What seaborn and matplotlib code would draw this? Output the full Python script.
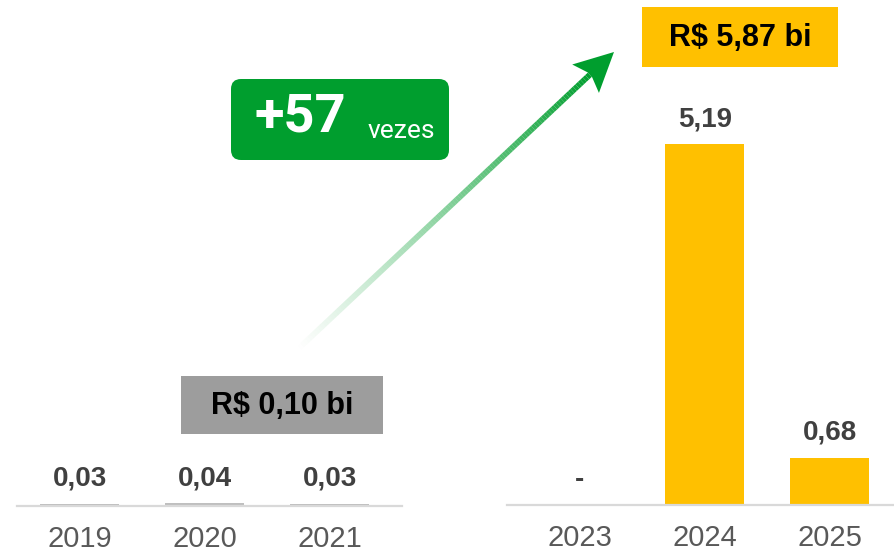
import numpy as np
import matplotlib
matplotlib.use("Agg")
import matplotlib.pyplot as plt
import seaborn as sns
from matplotlib.patches import FancyBboxPatch, Rectangle, Polygon
from matplotlib.collections import LineCollection

# ---- data ----
years_a = ["2019", "2020", "2021"]
vals_a = [0.03, 0.04, 0.03]
labels_a = ["0,03", "0,04", "0,03"]
years_b = ["2023", "2024", "2025"]
vals_b = [0.0, 5.19, 0.68]
labels_b = ["-", "5,19", "0,68"]
total_a = "R$ 0,10 bi"
total_b = "R$ 5,87 bi"
growth = "+57"
growth_unit = "vezes"

sns.set_theme(style="white")
plt.rcParams["font.family"] = ["Liberation Sans", "DejaVu Sans"]

W, H = 895, 558
fig = plt.figure(figsize=(W / 100, H / 100), dpi=100)

GRAY_BAR = "#BFBFBF"
YELLOW = "#FFC000"
GREEN = "#009E2E"
BASE = "#D9D9D9"
YMAX = 7.27


def px_axes(x0, x1, base_y):
    return fig.add_axes([x0 / W, (H - base_y) / H, (x1 - x0) / W, base_y / H])


def draw_group(ax, years, vals, labels, color, xlim):
    sns.barplot(x=years, y=vals, color=color, width=0.632, saturation=1,
                edgecolor="none", linewidth=0, ax=ax)
    ax.set_xlim(*xlim)
    ax.set_ylim(0, YMAX)
    ax.set_yticks([])
    ax.set_ylabel("")
    for s in ["top", "left", "right"]:
        ax.spines[s].set_visible(False)
    ax.spines["bottom"].set_color(BASE)
    ax.spines["bottom"].set_linewidth(1.6)
    ax.tick_params(axis="x", length=0, pad=14, labelsize=21, labelcolor="#595959")
    ax.patch.set_alpha(0)
    for i, (v, lab) in enumerate(zip(vals, labels)):
        ax.annotate(lab, (i, v), xytext=(0, 13), textcoords="offset points",
                    ha="center", va="baseline", fontsize=20, fontweight="bold",
                    color="#404040")


ax_a = px_axes(17, 402, 506)
draw_group(ax_a, years_a, vals_a, labels_a, GRAY_BAR, (-0.5, 2.58))
ax_b = px_axes(507, 893, 505)
draw_group(ax_b, years_b, vals_b, labels_b, YELLOW, (-0.584, 2.504))

# ---- overlay in pixel coordinates ----
ov = fig.add_axes([0, 0, 1, 1])
ov.set_xlim(0, W)
ov.set_ylim(H, 0)
ov.axis("off")
ov.patch.set_alpha(0)

# gray total box
ov.add_patch(Rectangle((181, 376), 202, 58, facecolor="#9D9D9D", edgecolor="none"))
ov.text(282, 406, total_a, ha="center", va="center", fontsize=22,
        fontweight="bold", color="black")

# yellow total box
ov.add_patch(Rectangle((642, 7), 196, 60, facecolor=YELLOW, edgecolor="none"))
ov.text(740, 38, total_b, ha="center", va="center", fontsize=22,
        fontweight="bold", color="black")

# green badge
ov.add_patch(FancyBboxPatch((231, 79), 218, 81,
                            boxstyle="round,pad=0,rounding_size=10",
                            facecolor=GREEN, edgecolor="none"))
ov.text(255, 131.5, growth, ha="left", va="baseline", fontsize=39,
        fontweight="bold", color="white", family=["Roboto", "DejaVu Sans"])
ov.text(368, 138, growth_unit, ha="left", va="baseline", fontsize=19,
        color="white", family=["Roboto", "DejaVu Sans"], fontweight="normal")

# gradient arrow
tail = np.array([297.0, 350.0])
tip = np.array([614.0, 52.0])
u = (tip - tail) / np.linalg.norm(tip - tail)
n = np.array([-u[1], u[0]])
notch = tip - 30 * u
N = 120
pts = np.linspace(tail, notch, N + 1)
segs = np.stack([pts[:-1], pts[1:]], axis=1)
alphas = np.linspace(0.0, 1.0, N) ** 1.1
rgb = matplotlib.colors.to_rgb(GREEN)
cols = [(rgb[0], rgb[1], rgb[2], a) for a in alphas]
ov.add_collection(LineCollection(segs, colors=cols, linewidths=4.2, capstyle="butt"))
wing1 = tip - 39 * u + 19.5 * n
wing2 = tip - 39 * u - 19.5 * n
ov.add_patch(Polygon([tip, wing1, notch - 2 * u, wing2], closed=True,
                     facecolor=GREEN, edgecolor="none"))

fig.savefig("out.png", dpi=100)
